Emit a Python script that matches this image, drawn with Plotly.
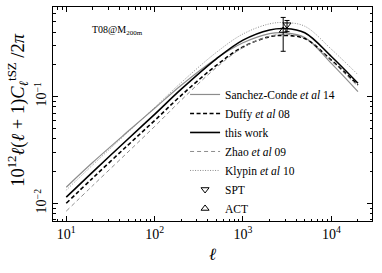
import plotly.graph_objects as go

ell = [10, 20, 50, 100, 200, 500, 1000, 2000, 3000, 5000, 10000, 20000]
sanchez = [0.01414, 0.0242, 0.0472, 0.0775, 0.1275, 0.227, 0.318, 0.388, 0.395, 0.357, 0.204, 0.111]
duffy = [0.0100, 0.01728, 0.0351, 0.0596, 0.1024, 0.196, 0.291, 0.363, 0.373, 0.349, 0.219, 0.128]
this_work = [0.0114, 0.0197, 0.040, 0.068, 0.117, 0.225, 0.337, 0.420, 0.433, 0.395, 0.237, 0.133]
zhao = [0.00844, 0.01468, 0.0302, 0.0524, 0.0924, 0.187, 0.288, 0.367, 0.381, 0.353, 0.216, 0.125]
klypin = [0.01328, 0.02295, 0.0464, 0.0789, 0.135, 0.259, 0.385, 0.479, 0.492, 0.455, 0.277, 0.160]

spt_ell = [3150]
spt_val = [0.47]
spt_up = [0.045]
spt_dn = [0.065]
act_ell = [2850]
act_val = [0.415]
act_up = [0.135]
act_dn = [0.15]

FONT = "Liberation Serif"
fig = go.Figure()

def line(y, name, color, dash, width):
    fig.add_trace(go.Scatter(x=ell, y=y, mode="lines", name=name, hoverinfo="skip",
                             line=dict(color=color, dash=dash, width=width, shape="spline")))

line(sanchez, "Sanchez-Conde <i>et al</i> 14", "#8c8c8c", "solid", 1.2)
line(duffy, "Duffy <i>et al</i> 08", "black", "4px,2.5px", 1.6)
line(this_work, "this work", "black", "solid", 1.6)
line(zhao, "Zhao <i>et al</i> 09", "#8c8c8c", "4px,3px", 1.0)
line(klypin, "Klypin <i>et al</i> 10", "#8c8c8c", "1px,1.5px", 1.0)

fig.add_trace(go.Scatter(x=spt_ell, y=spt_val, mode="markers", name="SPT", hoverinfo="skip",
                         marker=dict(symbol="triangle-down-open", size=7, color="black", line=dict(width=1)),
                         error_y=dict(type="data", array=spt_up, arrayminus=spt_dn, color="black", thickness=1, width=2.5)))
fig.add_trace(go.Scatter(x=act_ell, y=act_val, mode="markers", name="ACT", hoverinfo="skip",
                         marker=dict(symbol="triangle-up-open", size=7, color="black", line=dict(width=1)),
                         error_y=dict(type="data", array=act_up, arrayminus=act_dn, color="black", thickness=1, width=2.5)))

xminor = [m * 10 ** d for d in range(0, 5) for m in range(2, 10)]
yminor = [m * 10 ** d for d in (-3, -2, -1) for m in range(2, 10)]

fig.update_layout(
    width=382, height=273,
    margin=dict(l=53, r=10, t=7, b=52, autoexpand=False),
    paper_bgcolor="white", plot_bgcolor="white",
    font=dict(family=FONT, color="black", size=11),
    hovermode=False,
    showlegend=True,
    legend=dict(x=0.414, y=0.659, xanchor="left", yanchor="top", bgcolor="rgba(0,0,0,0)",
                font=dict(family=FONT, size=11.5), itemwidth=30, tracegroupgap=0),
    xaxis=dict(type="log", range=[0.85, 4.46], showgrid=False, zeroline=False, automargin=False,
               showline=True, linecolor="black", linewidth=1, mirror="allticks",
               ticks="inside", ticklen=5, tickcolor="black",
               tickvals=[10, 100, 1000, 10000],
               ticktext=["10<sup>1</sup>", "10<sup>2</sup>", "10<sup>3</sup>", "10<sup>4</sup>"],
               tickfont=dict(family=FONT, size=14),
               minor=dict(tickvals=xminor, ticks="inside", ticklen=2.5, tickcolor="black", showgrid=False),
               title=dict(text="<i>ℓ</i>", font=dict(family=FONT, size=17), standoff=7)),
    yaxis=dict(type="log", range=[-2.166, -0.162], showgrid=False, zeroline=False, automargin=False,
               showline=True, linecolor="black", linewidth=1, mirror="allticks",
               ticks="inside", ticklen=5, tickcolor="black",
               tickvals=[0.01, 0.1], ticktext=["10<sup>−2</sup>", "10<sup>−1</sup>"],
               tickangle=-90,
               tickfont=dict(family=FONT, size=14),
               minor=dict(tickvals=yminor, ticks="inside", ticklen=2.5, tickcolor="black", showgrid=False)),
    annotations=[
        dict(x=0.116, y=0.89, xref="paper", yref="paper", xanchor="left", yanchor="middle",
             text="T08@M<sub>200m</sub>", showarrow=False, font=dict(family=FONT, size=10)),
        dict(x=-0.11, y=0.519, xref="paper", yref="paper", xanchor="center", yanchor="middle",
             textangle=-90, showarrow=False, font=dict(family=FONT, size=18.5),
             text="10<sup>12</sup><i>ℓ</i>(<i>ℓ</i> + 1)<i>C</i><sub><i>ℓ</i></sub><sup>tSZ</sup> /2<i>π</i>"),
    ],
)

fig.write_html("out.html", config={"displayModeBar": False, "staticPlot": True},
               post_script="document.body.style.margin='0';")
